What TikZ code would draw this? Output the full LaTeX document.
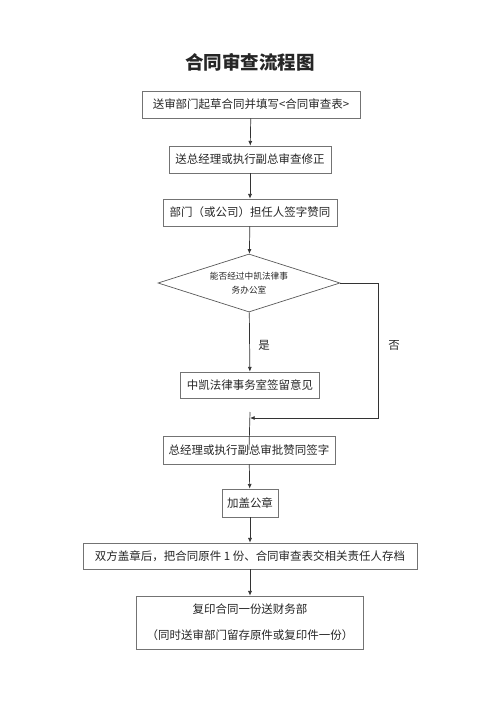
\documentclass[tikz,border=0pt]{standalone}
\usepackage{fontspec}
\usepackage{tikz}
\usetikzlibrary{arrows.meta}
\usetikzlibrary{shapes}
\newfontfamily\cjk{Noto Sans CJK SC}

\begin{document}
\begin{tikzpicture}[x=0.03cm,y=-0.03cm]
\tikzstyle{every node}=[font=\cjk\fontsize{9.8}{12}\selectfont,text=black!85]
\tikzstyle{sbox}=[rectangle,draw=black!55,line width=0.6pt,inner sep=0pt,minimum height=0.81cm]
\tikzstyle{cond}=[diamond,draw=black!65,line width=0.6pt,aspect=3.1,inner sep=0pt,minimum width=5.46cm,minimum height=1.74cm,align=center]
\tikzstyle{arr}=[-{Latex[length=1.4mm,width=1.2mm]},draw=black!80,line width=0.6pt]
\useasboundingbox (0,0) rectangle (500,707);
\node (title) at (250,62) {\fontsize{15.8}{18}\selectfont\bfseries 合同审查流程图};
\node[sbox,minimum width=6.54cm] (draft) at (251,104.5) {送审部门起草合同并填写<合同审查表>};
\node[sbox,minimum width=4.86cm] (revise) at (250,159.5) {送总经理或执行副总审查修正};
\node[sbox,minimum width=5.22cm] (dept) at (250,212.5) {部门（或公司）担任人签字赞同};
\node[cond] (law) at (249,283) {\fontsize{7.4}{11}\selectfont 能否经过中凯法律事\\\fontsize{7.4}{11}\selectfont 务办公室};
\node[sbox,minimum width=4.17cm,minimum height=0.78cm] (opinion) at (250,385) {中凯法律事务室签留意见};
\node[sbox,minimum width=5.16cm,minimum height=0.84cm] (approve) at (249,450) {总经理或执行副总审批赞同签字};
\node[sbox,minimum width=1.68cm,minimum height=0.84cm] (seal) at (250,503) {加盖公章};
\node[sbox,minimum width=10.02cm,minimum height=0.78cm] (archive) at (250,556) {双方盖章后，把合同原件 1 份、合同审查表交相关责任人存档};
\node[sbox,minimum width=6.81cm,minimum height=1.59cm,align=center] (copy) at (250,622.5) {复印合同一份送财务部\\[10pt]（同时送审部门留存原件或复印件一份）};
\node (yes) at (264,345) {是};
\node (no) at (394,345) {否};
% side branch
\coordinate (turn) at (378,418);
\coordinate (merge) at (250,418);
\coordinate (joinup) at (250,412);
\draw[arr] (draft) -- (revise);
\draw[arr] (revise) -- (dept);
\draw[arr] (dept) -- (law);
\draw[arr] (law) -- (opinion);
\draw[arr] (law.east) -| (turn) -- (merge);
\draw[draw=black!80,line width=0.6pt] (joinup) -- (approve.center);
\draw[arr] (approve) -- (seal);
\draw[arr] (seal) -- (archive);
\draw[arr] (archive) -- (copy);
\end{tikzpicture}
\end{document}
